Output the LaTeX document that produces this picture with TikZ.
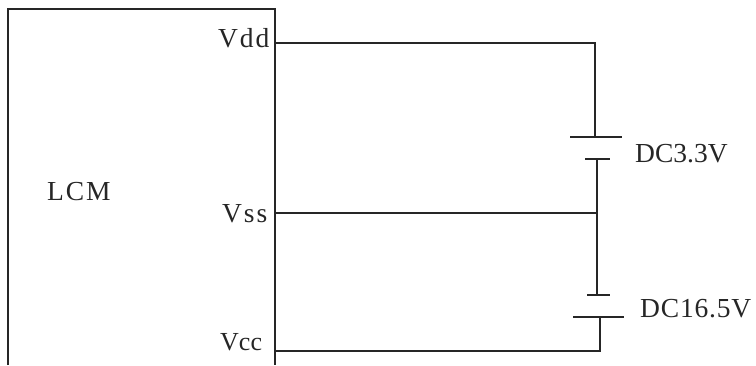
\documentclass[tikz,border=0pt]{standalone}
\usepackage{fontspec}
\setmainfont{Liberation Serif}
\newfontfamily\widefont[LetterSpace=7]{Liberation Serif}
\newfontfamily\midfont[LetterSpace=3]{Liberation Serif}
\usetikzlibrary{calc,positioning}
\begin{document}
\begin{tikzpicture}[x=1pt,y=-1pt]
        \tikzstyle{wire}=[line width=1.5pt,color=black!85]
        \tikzstyle{lbl}=[inner sep=0pt,anchor=base west,font=\fontsize{27.5}{27.5}\selectfont,color=black!85]
        \tikzstyle{widelbl}=[lbl,font=\fontsize{27.5}{27.5}\widefont]
        \tikzstyle{midlbl}=[lbl,font=\fontsize{27.5}{27.5}\midfont]
        \useasboundingbox (0,0) rectangle (756,365);
        % LCM module, open at the bottom
        \coordinate (bl) at (8,365);
        \coordinate (tl) at (8,9);
        \coordinate (tr) at (275,9);
        \coordinate (br) at (275,365);
        \draw[wire] (bl) -- (tl) -- (tr) -- (br);
        % pins on the right side of the module
        \coordinate (pdd) at (275,43);
        \coordinate (pss) at (275,213);
        \coordinate (pcc) at (275,351);
        % labels
        \node (lcm)[widelbl] at (47,200) {LCM};
        \node (vdd)[widelbl] at (218,47) {Vdd};
        \node (vss)[widelbl] at (222,222) {Vss};
        \node (vcc)[lbl,font=\fontsize{26}{26}\selectfont] at (220,350) {Vcc};
        \node (dca)[lbl] at (635,162) {DC3.3V};
        \node (dcb)[midlbl] at (640,317) {DC16.5V};
        % upper cell
        \coordinate (a1) at (595,137);
        \coordinate (a2) at (597,159);
        \draw[wire] ($(a1)+(-25,0)$) -- ($(a1)+(27,0)$);
        \draw[wire] ($(a2)+(-12,0)$) -- ($(a2)+(13,0)$);
        % lower cell
        \coordinate (b1) at (597,295);
        \coordinate (b2) at (600,317);
        \draw[wire] ($(b1)+(-10,0)$) -- ($(b1)+(13,0)$);
        \draw[wire] ($(b2)+(-27,0)$) -- ($(b2)+(24,0)$);
        % wiring
        \coordinate (j) at (597,213);
        \draw[wire] (pdd) -| (a1);
        \draw[wire] (pss) -- (j);
        \draw[wire] (a2) -- (b1);
        \draw[wire] (pcc) -| (b2);
    \end{tikzpicture}
\end{document}
